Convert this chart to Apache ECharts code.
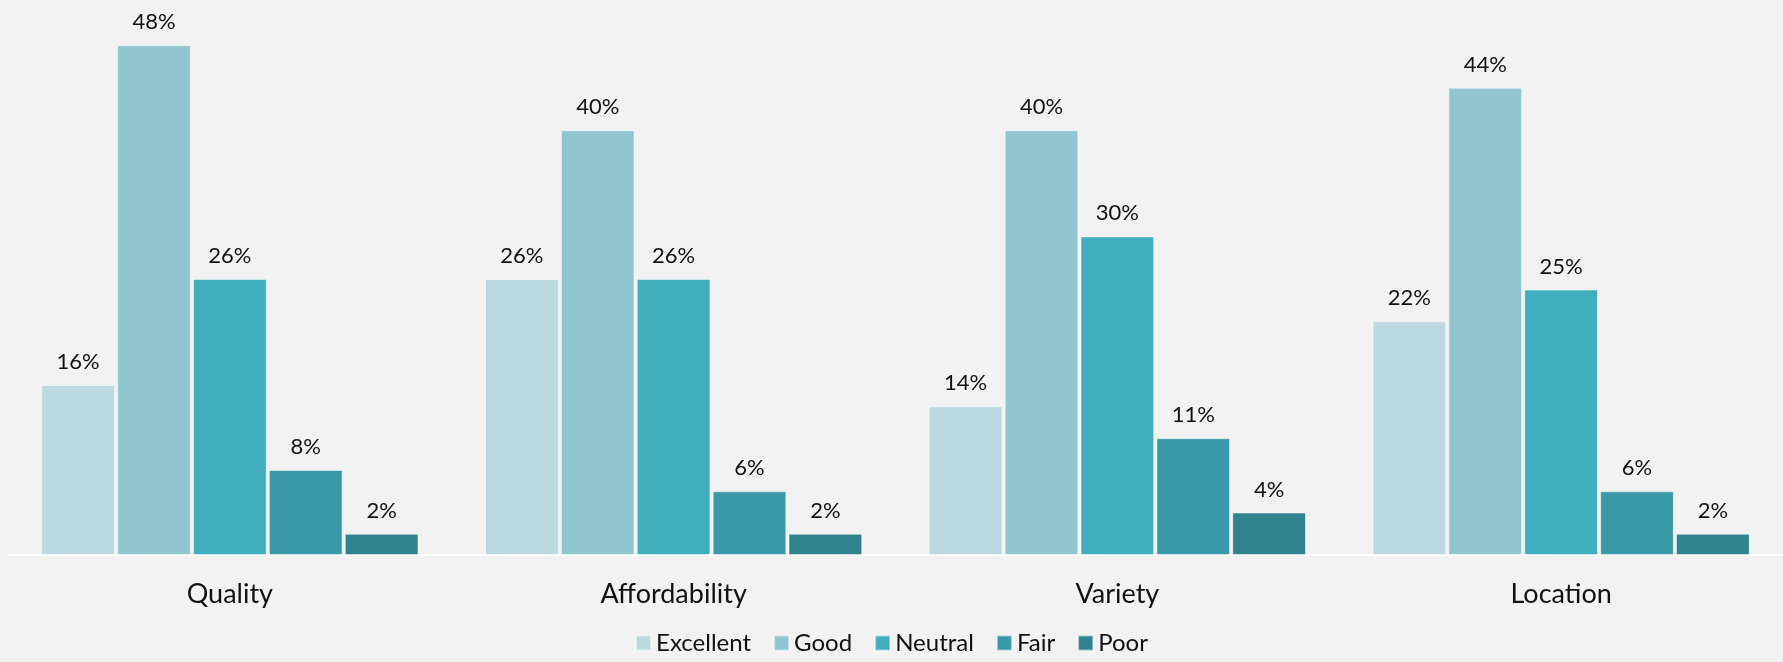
<!DOCTYPE html>
<html>
<head>
<meta charset="utf-8">
<script src="https://cdn.jsdelivr.net/npm/echarts@6/dist/echarts.min.js"></script>
<style>
html, body { margin: 0; padding: 0; background: #f2f2f2; }
#chart { width: 1783px; height: 662px; }
</style>
</head>
<body>
<div id="chart"></div>
<script>
var categories = ['Quality', 'Affordability', 'Variety', 'Location'];
var ratings = ['Excellent', 'Good', 'Neutral', 'Fair', 'Poor'];
var excellent = [16, 26, 14, 22];
var good = [48, 40, 40, 44];
var neutral = [26, 26, 30, 25];
var fair = [8, 6, 11, 6];
var poor = [2, 2, 4, 2];
var colors = ['#bcd9e0', '#91c5cf', '#41aebd', '#3a99a6', '#30828d'];

var values = [excellent, good, neutral, fair, poor];
var font = 'Lato, "Open Sans", sans-serif';

var chart = echarts.init(document.getElementById('chart'));

var series = [];
for (var i = 0; i < ratings.length; i++) {
    series.push({
        name: ratings[i],
        type: 'bar',
        data: values[i],
        barGap: '3%',
        barCategoryGap: '15%',
        itemStyle: {
            color: colors[i],
            borderColor: 'rgba(255,255,255,0.5)',
            borderWidth: 1
        },
        label: {
            show: true,
            position: 'top',
            distance: 12,
            formatter: '{c}%',
            color: '#111',
            fontSize: 22,
            fontFamily: font
        }
    });
}

var option = {
    backgroundColor: '#f2f2f2',
    animation: false,
    color: colors,
    grid: { left: 8, right: 0, top: 24, bottom: 107 },
    legend: {
        bottom: 2,
        left: 'center',
        itemWidth: 15,
        itemHeight: 15,
        itemGap: 22,
        icon: 'rect',
        textStyle: { color: '#111', fontSize: 24, fontFamily: font }
    },
    xAxis: {
        type: 'category',
        data: categories,
        axisLine: { lineStyle: { color: '#ffffff', width: 2 } },
        axisTick: { show: false },
        axisLabel: { color: '#111', fontSize: 27, fontFamily: font, margin: 26 }
    },
    yAxis: {
        type: 'value',
        min: 0,
        max: 50,
        show: false,
        splitLine: { show: false }
    },
    series: series
};

chart.setOption(option);
</script>
</body>
</html>
